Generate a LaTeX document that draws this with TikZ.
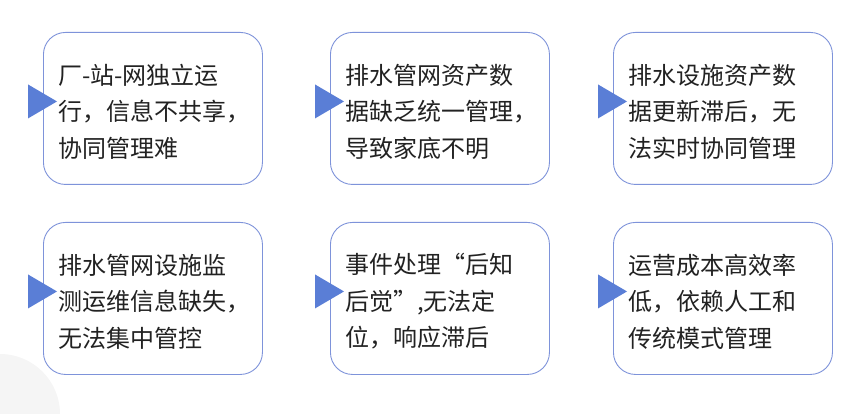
\documentclass[tikz,border=0pt]{standalone}
\usepackage{fontspec}
\newfontfamily\cjk{Noto Sans CJK SC}
\definecolor{bd}{HTML}{7E93DA}
\definecolor{tri}{HTML}{5A7ED6}
\definecolor{tx}{HTML}{222222}
\tikzset{card/.style={draw=bd,line width=0.9pt,fill=white,rounded corners=22pt,minimum width=219pt,minimum height=152pt,anchor=north west},
txt/.style={anchor=west,align=left,font=\cjk\fontsize{24}{36.5}\selectfont,text=tx,inner sep=0pt},
arr/.style={fill=tri,draw=none}}
\begin{document}
\begin{tikzpicture}[x=1pt,y=-1pt]
\useasboundingbox (0,0) rectangle (860,414);
\fill[gray!8] (0,414) circle (60);
\foreach \n/\x/\y/\t in {a/43/32/{厂-站-网独立运\\行，信息不共享，\\协同管理难},
 b/330/32/{排水管网资产数\\据缺乏统一管理，\\导致家底不明},
 c/613/32/{排水设施资产数\\据更新滞后，无\\法实时协同管理},
 d/43/222/{排水管网设施监\\测运维信息缺失，\\无法集中管控},
 e/330/222/{事件处理“后知\\后觉”,无法定\\位，响应滞后},
 f/613/222/{运营成本高效率\\低，依赖人工和\\传统模式管理}}{
 \node[card] (\n) at (\x,\y) {};
 \node[txt] (\n t) at ([xshift=15pt,yshift=-3pt]\n.west) {\t};
 \fill[arr] ([xshift=-15pt,yshift=-10pt]\n.west) -- ([xshift=14pt,yshift=7pt]\n.west) -- ([xshift=-15pt,yshift=24pt]\n.west) -- cycle;
}
\end{tikzpicture}
\end{document}
